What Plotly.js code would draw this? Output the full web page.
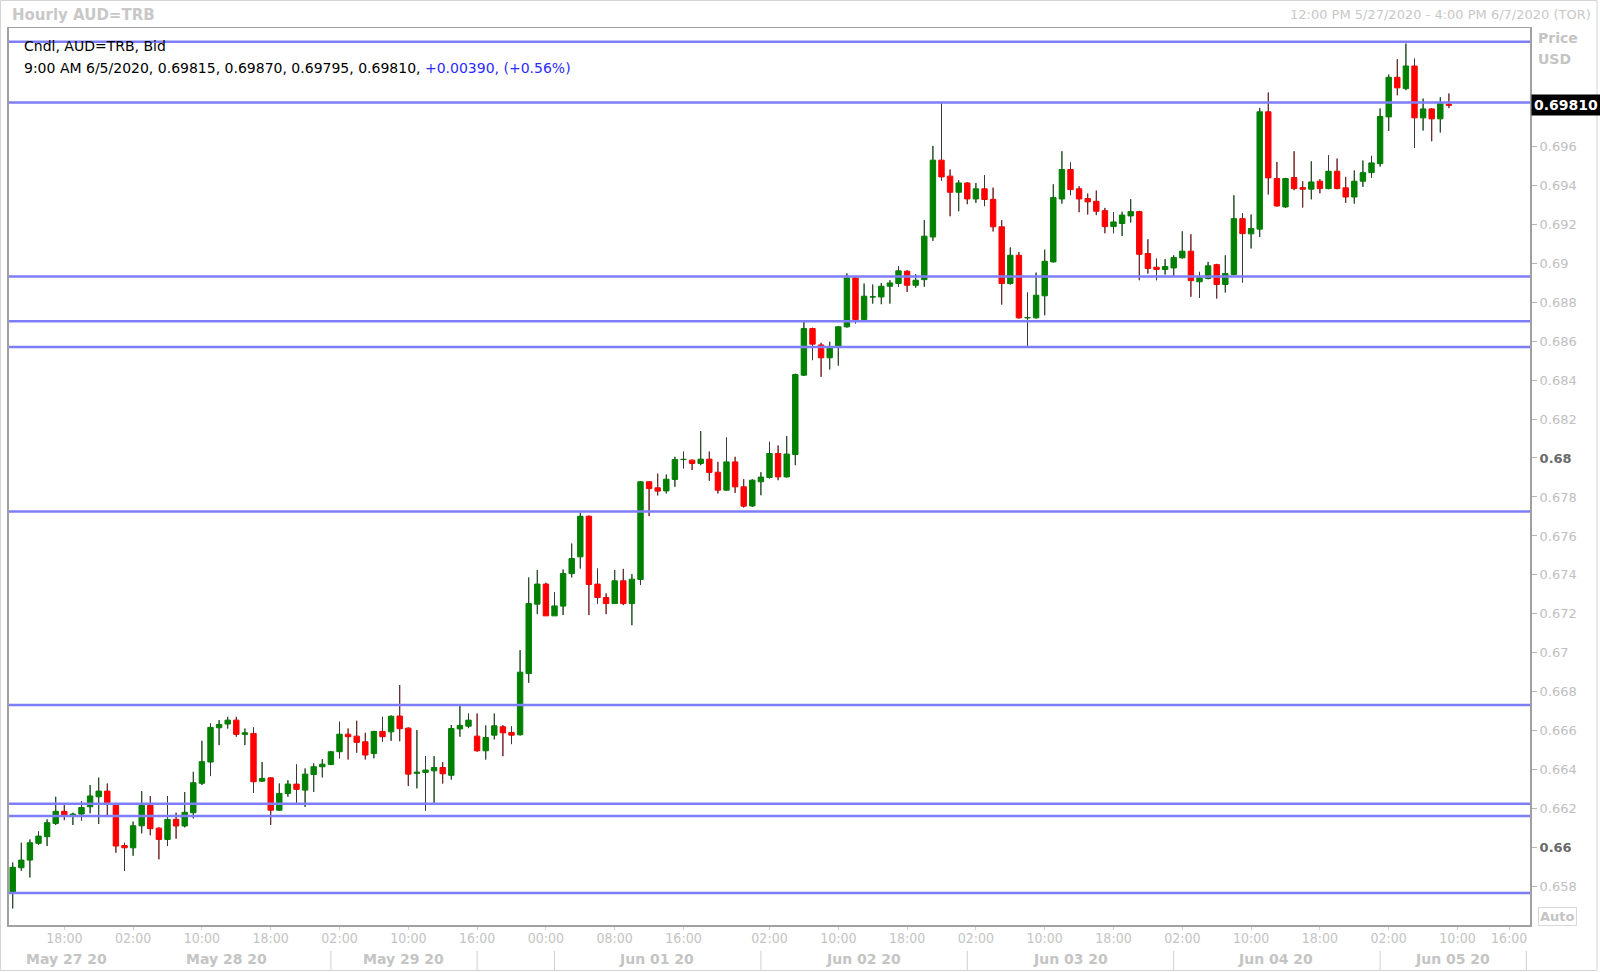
<!DOCTYPE html>
<html>
<head>
<meta charset="utf-8">
<script src="https://cdn.plot.ly/plotly-3.0.1.min.js"></script>
<style>
  html, body { margin: 0; padding: 0; background: #ffffff; }
  #chart { width: 1600px; height: 972px; }
</style>
</head>
<body>
<div id="chart"></div>
<script>
// ---- Data (hourly AUD=TRB bid candles, 12:00 5/27/2020 .. 9:00 6/5/2020) ----
const openP = [
0.65770,0.65898,0.65937,0.66023,0.66057,0.66125,0.66187,0.66166,0.66173,0.66211,
0.66262,0.66291,0.66218,0.66012,0.66000,0.66113,0.66218,0.66101,0.66043,0.66146,
0.66112,0.66180,0.66331,0.66440,0.66616,0.66635,0.66655,0.66582,0.66587,0.66342,
0.66359,0.66193,0.66279,0.66327,0.66296,0.66376,0.66416,0.66428,0.66493,0.66583,
0.66573,0.66544,0.66484,0.66597,0.66595,0.66676,0.66614,0.66382,0.66387,0.66395,
0.66412,0.66372,0.66610,0.66624,0.66573,0.66498,0.66578,0.66621,0.66592,0.66580,
0.66894,0.67250,0.67353,0.67190,0.67240,0.67407,0.67493,0.67701,0.67353,0.67284,
0.67253,0.67370,0.67253,0.67377,0.67878,0.67847,0.67831,0.67890,0.67992,0.67989,
0.67972,0.67994,0.67927,0.67835,0.67980,0.67852,0.67754,0.67878,0.67900,0.68023,
0.67903,0.68018,0.68425,0.68664,0.68580,0.68514,0.68574,0.68673,0.68924,0.68710,
0.68826,0.68826,0.68881,0.68895,0.68958,0.68886,0.68915,0.69134,0.69528,0.69446,
0.69363,0.69411,0.69329,0.69381,0.69327,0.69186,0.68895,0.69040,0.68719,0.68719,
0.68832,0.69006,0.69329,0.69480,0.69381,0.69331,0.69317,0.69269,0.69187,0.69203,
0.69242,0.69264,0.69049,0.68979,0.68967,0.68975,0.69027,0.69061,0.68904,0.68921,
0.68992,0.68890,0.68941,0.69228,0.69150,0.69174,0.69776,0.69434,0.69288,0.69439,
0.69387,0.69379,0.69420,0.69382,0.69471,0.69386,0.69339,0.69420,0.69464,0.69510,
0.69750,0.69953,0.69895,0.70011,0.69745,0.69791,0.69740,0.69815];
const highP = [
0.65925,0.66026,0.66043,0.66084,0.66146,0.66262,0.66219,0.66180,0.66240,0.66322,
0.66360,0.66330,0.66221,0.66026,0.66134,0.66291,0.66266,0.66105,0.66266,0.66180,
0.66286,0.66390,0.66549,0.66638,0.66655,0.66672,0.66672,0.66612,0.66618,0.66440,
0.66363,0.66330,0.66347,0.66428,0.66407,0.66433,0.66455,0.66496,0.66647,0.66612,
0.66652,0.66590,0.66600,0.66672,0.66679,0.66835,0.66618,0.66604,0.66470,0.66470,
0.66440,0.66630,0.66727,0.66689,0.66689,0.66628,0.66689,0.66629,0.66624,0.67014,
0.67387,0.67425,0.67360,0.67312,0.67428,0.67561,0.67719,0.67705,0.67433,0.67305,
0.67425,0.67431,0.67404,0.67882,0.67881,0.67920,0.67915,0.68006,0.68033,0.67992,
0.68138,0.68033,0.67980,0.68105,0.68006,0.67891,0.67891,0.67927,0.68083,0.68064,
0.68112,0.68432,0.68698,0.68668,0.68591,0.68596,0.68676,0.68947,0.68928,0.68895,
0.68890,0.68898,0.68912,0.68984,0.68963,0.68943,0.69220,0.69601,0.69822,0.69480,
0.69425,0.69415,0.69411,0.69451,0.69387,0.69220,0.69080,0.69057,0.68849,0.68951,
0.69069,0.69404,0.69574,0.69516,0.69394,0.69357,0.69372,0.69283,0.69261,0.69263,
0.69328,0.69268,0.69122,0.69023,0.69020,0.69040,0.69163,0.69148,0.68955,0.69006,
0.68996,0.69040,0.69348,0.69256,0.69249,0.69796,0.69875,0.69519,0.69437,0.69574,
0.69420,0.69522,0.69430,0.69553,0.69536,0.69442,0.69475,0.69526,0.69550,0.69793,
0.69967,0.70046,0.70126,0.70049,0.69844,0.69794,0.69851,0.69870];
const lowP = [
0.65689,0.65882,0.65848,0.66016,0.66009,0.66117,0.66142,0.66117,0.66139,0.66177,
0.66122,0.66168,0.65975,0.65882,0.65959,0.66074,0.66064,0.65941,0.66009,0.66047,
0.66105,0.66151,0.66322,0.66368,0.66527,0.66612,0.66570,0.66527,0.66282,0.66339,
0.66117,0.66190,0.66262,0.66231,0.66210,0.66287,0.66361,0.66424,0.66459,0.66453,
0.66488,0.66453,0.66459,0.66544,0.66549,0.66547,0.66317,0.66305,0.66190,0.66231,
0.66330,0.66350,0.66570,0.66614,0.66493,0.66453,0.66556,0.66470,0.66532,0.66576,
0.66847,0.67199,0.67190,0.67190,0.67194,0.67387,0.67433,0.67194,0.67253,0.67199,
0.67253,0.67245,0.67142,0.67348,0.67702,0.67808,0.67818,0.67852,0.67946,0.67938,
0.67963,0.67883,0.67818,0.67831,0.67821,0.67746,0.67749,0.67809,0.67895,0.67886,
0.67900,0.67963,0.68421,0.68502,0.68416,0.68454,0.68474,0.68669,0.68690,0.68707,
0.68792,0.68789,0.68792,0.68878,0.68852,0.68874,0.68878,0.69114,0.69422,0.69240,
0.69266,0.69302,0.69309,0.69292,0.69162,0.68787,0.68890,0.68715,0.68573,0.68715,
0.68732,0.69003,0.69305,0.69348,0.69261,0.69249,0.69246,0.69153,0.69153,0.69139,
0.69208,0.68912,0.68946,0.68912,0.68941,0.68934,0.69023,0.68827,0.68821,0.68917,
0.68818,0.68849,0.68938,0.68900,0.69075,0.69134,0.69352,0.69290,0.69283,0.69374,
0.69285,0.69327,0.69358,0.69379,0.69379,0.69309,0.69305,0.69391,0.69437,0.69495,
0.69678,0.69861,0.69887,0.69591,0.69680,0.69625,0.69670,0.69795];
const closeP = [
0.65900,0.65937,0.66026,0.66060,0.66129,0.66187,0.66166,0.66173,0.66207,0.66266,
0.66291,0.66231,0.66009,0.66000,0.66113,0.66218,0.66098,0.66043,0.66146,0.66112,
0.66182,0.66334,0.66442,0.66618,0.66633,0.66655,0.66582,0.66590,0.66339,0.66356,
0.66193,0.66279,0.66327,0.66300,0.66378,0.66416,0.66429,0.66493,0.66583,0.66570,
0.66541,0.66476,0.66597,0.66570,0.66675,0.66611,0.66378,0.66388,0.66399,0.66412,
0.66380,0.66612,0.66628,0.66655,0.66498,0.66566,0.66626,0.66590,0.66578,0.66901,
0.67253,0.67353,0.67190,0.67241,0.67407,0.67484,0.67701,0.67351,0.67284,0.67253,
0.67370,0.67253,0.67378,0.67878,0.67843,0.67830,0.67891,0.67992,0.67993,0.67972,
0.67994,0.67926,0.67835,0.67980,0.67852,0.67753,0.67886,0.67902,0.68023,0.67903,
0.68020,0.68428,0.68664,0.68584,0.68514,0.68563,0.68673,0.68924,0.68710,0.68830,
0.68827,0.68881,0.68898,0.68960,0.68886,0.68912,0.69138,0.69528,0.69442,0.69363,
0.69411,0.69329,0.69381,0.69326,0.69186,0.68895,0.69040,0.68719,0.68720,0.68835,
0.69009,0.69336,0.69480,0.69377,0.69329,0.69314,0.69266,0.69187,0.69211,0.69246,
0.69264,0.69045,0.68972,0.68967,0.68982,0.69028,0.69061,0.68910,0.68924,0.68986,
0.68890,0.68946,0.69228,0.69151,0.69177,0.69776,0.69437,0.69293,0.69434,0.69382,
0.69379,0.69416,0.69382,0.69471,0.69382,0.69339,0.69420,0.69464,0.69514,0.69752,
0.69953,0.69899,0.70011,0.69745,0.69791,0.69740,0.69818,0.69810];

// horizontal support / resistance levels drawn on the chart
const levels = [0.70135, 0.69824, 0.68931, 0.68702, 0.68570, 0.67725, 0.66733, 0.66226, 0.66163, 0.65768];

// time-axis tick labels (candle index where each label sits)
const timeTickIdx  = [6, 14, 22, 30, 38, 46, 54, 62, 70, 78, 88, 96, 104, 112, 120, 128, 136, 144, 152, 160, 168, 174];
const timeTickText = ["18:00","02:00","10:00","18:00","02:00","10:00","16:00","00:00","08:00","16:00","02:00","10:00","18:00","02:00","10:00","18:00","02:00","10:00","18:00","02:00","10:00","16:00"];
const dateLabels   = ["May 27 20","May 28 20","May 29 20","Jun 01 20","Jun 02 20","Jun 03 20","Jun 04 20","Jun 05 20"];
const dateCenters  = [6.2, 24.9, 45.4, 74.9, 98.9, 123.0, 146.8, 167.4];
const dateSeps     = [37, 54, 63, 87, 111, 135, 159, 176];

// price-axis ticks
const yTickVals = [0.658,0.660,0.662,0.664,0.666,0.668,0.670,0.672,0.674,0.676,0.678,0.680,0.682,0.684,0.686,0.688,0.690,0.692,0.694,0.696];
const yTickText = ["0.658","0.66","0.662","0.664","0.666","0.668","0.67","0.672","0.674","0.676","0.678","0.68","0.682","0.684","0.686","0.688","0.69","0.692","0.694","0.696"];
const yBoldTicks = ["0.66","0.68"];

const legendLine1 = "Cndl, AUD=TRB, Bid";
const legendLine2 = "9:00 AM 6/5/2020, 0.69815, 0.69870, 0.69795, 0.69810, ";
const legendChange = "+0.00390, (+0.56%)";
const lastPrice = 0.69810;

// ---- Layout geometry ----
const W = 1600, H = 972;
const M = {l: 9, r: 70, t: 28, b: 47};
const plotW = W - M.l - M.r, plotH = H - M.t - M.b;
const px = x => (x - M.l) / plotW;
const py = y => (H - M.b - y) / plotH;

const idx = openP.map((_, i) => i);

// wicks (outside bodies), drawn dark
const wx = [], wy = [];
idx.forEach(i => {
  const top = Math.max(openP[i], closeP[i]);
  const bot = Math.min(openP[i], closeP[i]);
  wx.push(i, i, null, i, i, null);
  wy.push(highP[i], top, null, bot, lowP[i], null);
});

const FONT = "DejaVu Sans, Verdana, sans-serif";
const GREY = "#c4c4c4";

const traces = [
  {
    type: "candlestick",
    x: idx, open: openP, high: highP, low: lowP, close: closeP,
    increasing: {line: {color: "#008000", width: 1}, fillcolor: "#008000"},
    decreasing: {line: {color: "#ff0000", width: 1}, fillcolor: "#ff0000"},
    whiskerwidth: 0,
    hoverinfo: "skip",
    showlegend: false
  },
  {
    type: "scatter", mode: "lines",
    x: wx, y: wy,
    line: {color: "#383838", width: 1},
    connectgaps: false,
    hoverinfo: "skip",
    showlegend: false
  }
];

const shapes = [];
levels.forEach(v => shapes.push({
  type: "line", xref: "paper", yref: "y", x0: 0, x1: 1, y0: v, y1: v,
  line: {color: "rgb(126,126,248)", width: 2.5}, layer: "above"
}));
dateSeps.forEach(s => shapes.push({
  type: "line", xref: "x", yref: "paper", x0: s, x1: s, y0: py(951), y1: py(970),
  line: {color: "#d0d0d0", width: 1}
}));
// outer frame of the widget
shapes.push({type: "rect", xref: "paper", yref: "paper",
  x0: px(0.5), x1: px(1597), y0: py(970.5), y1: py(0.5),
  line: {color: "#d4d4d4", width: 1}, fillcolor: "rgba(0,0,0,0)"});

const annotations = [];
annotations.push({xref: "paper", yref: "paper", x: px(10), y: py(15), xanchor: "left", yanchor: "middle",
  text: "<b>Hourly AUD=TRB</b>", showarrow: false, font: {family: FONT, size: 15, color: "#c8c8c8"}});
annotations.push({xref: "paper", yref: "paper", x: px(1593), y: py(15), xanchor: "right", yanchor: "middle",
  text: "12:00 PM 5/27/2020 - 4:00 PM 6/7/2020 (TOR)", showarrow: false, font: {family: FONT, size: 13, color: "#c8c8c8"}});
annotations.push({xref: "paper", yref: "paper", x: px(1536), y: py(38), xanchor: "left", yanchor: "middle",
  text: "<b>Price</b>", showarrow: false, font: {family: FONT, size: 14, color: GREY}});
annotations.push({xref: "paper", yref: "paper", x: px(1536), y: py(59), xanchor: "left", yanchor: "middle",
  text: "<b>USD</b>", showarrow: false, font: {family: FONT, size: 14, color: GREY}});
annotations.push({xref: "paper", yref: "y", x: px(1531), y: lastPrice, xanchor: "left", yanchor: "middle",
  text: "<b>" + lastPrice.toFixed(5) + "</b>", showarrow: false, bgcolor: "#000000", borderpad: 2,
  font: {family: FONT, size: 14, color: "#ffffff"}});
annotations.push({xref: "paper", yref: "paper", x: px(1557), y: py(916), xanchor: "center", yanchor: "middle",
  text: "<b>Auto</b>", showarrow: false, bordercolor: "#d8d8d8", borderwidth: 1, borderpad: 1,
  font: {family: FONT, size: 13, color: GREY}});
annotations.push({xref: "paper", yref: "paper", x: px(22), y: py(46), xanchor: "left", yanchor: "middle",
  text: legendLine1, showarrow: false, font: {family: FONT, size: 14, color: "#000000"}});
annotations.push({xref: "paper", yref: "paper", x: px(22), y: py(68), xanchor: "left", yanchor: "middle",
  text: legendLine2 + "<span style='color:#2b2bff'>" + legendChange + "</span>", showarrow: false,
  font: {family: FONT, size: 14, color: "#000000"}});
dateLabels.forEach((d, k) => annotations.push({
  xref: "x", yref: "paper", x: dateCenters[k], y: py(959), xanchor: "center", yanchor: "middle",
  text: "<b>" + d + "</b>", showarrow: false, font: {family: FONT, size: 14, color: GREY}
}));

const yText = yTickText.map(t => yBoldTicks.includes(t) ? "<b><span style='color:#6a6a6a'>" + t + "</span></b>" : t);

const layout = {
  width: W, height: H,
  margin: M,
  paper_bgcolor: "#ffffff", plot_bgcolor: "#ffffff",
  showlegend: false,
  boxgap: 0.3, boxgroupgap: 0.1,
  xaxis: {
    range: [(M.l - 12.7) / 8.6, (W - M.r - 12.7) / 8.6],
    rangeslider: {visible: false},
    showgrid: false, zeroline: false,
    showline: true, linecolor: "#a0a0a0", linewidth: 1.5, mirror: true,
    tickmode: "array", tickvals: timeTickIdx, ticktext: timeTickText,
    ticks: "outside", ticklen: 3, tickcolor: "#d0d0d0",
    ticklabelstandoff: -3,
    tickfont: {family: "DejaVu Sans Condensed, Liberation Sans Narrow, DejaVu Sans, sans-serif", size: 14, color: "#c4c4c4"},
    fixedrange: true
  },
  yaxis: {
    side: "right",
    range: [0.65604, 0.70206],
    showgrid: false, zeroline: false,
    showline: true, linecolor: "#a0a0a0", linewidth: 2, mirror: true,
    tickmode: "array", tickvals: yTickVals, ticktext: yText,
    ticks: "outside", ticklen: 5, tickcolor: "#b4b4b4",
    tickfont: {family: FONT, size: 13, color: "#c0c0c0"},
    fixedrange: true
  },
  shapes: shapes,
  annotations: annotations
};

Plotly.newPlot("chart", traces, layout, {displayModeBar: false, staticPlot: true});
</script>
</body>
</html>
